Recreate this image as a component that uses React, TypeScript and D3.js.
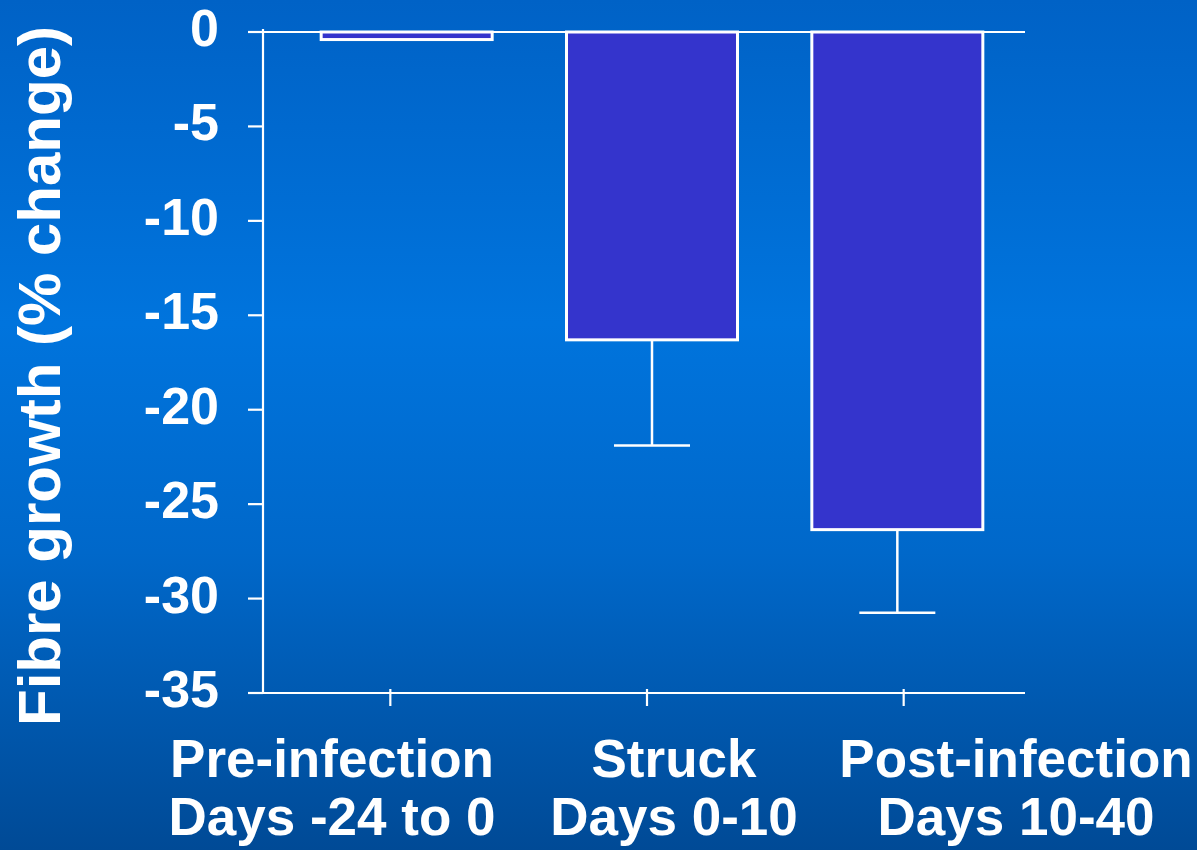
import React from "react";
import * as d3 from "d3";

const categories = ["Pre-infection", "Struck", "Post-infection"];
const subLabels = ["Days -24 to 0", "Days 0-10", "Days 10-40"];
const means = [-0.4, -16.3, -26.35];
const errorEnds = [null, -21.9, -30.75];
const yTicks = [0, -5, -10, -15, -20, -25, -30, -35];

const W = 1197;
const H = 850;

export default function App() {
  const y = d3.scaleLinear().domain([0, -35]).range([32, 693]);
  const xTick = d3.scaleBand<string>().domain(categories).range([262, 1032]).padding(0);
  const xBar = d3.scaleBand<string>().domain(categories).range([284, 1020]).paddingInner(0.31).paddingOuter(0.155);
  const xLabel = d3.scaleBand<string>().domain(categories).range([161, 1187]).padding(0);
  const axisX = 263;
  const lineL = 248;
  const lineR = 1025;
  const font = "'Liberation Sans', Arial, Helvetica, sans-serif";
  const barW = 171;
  const capHalf = 38;

  return (
    <div style={{ position: "fixed", left: 0, top: 0, width: W, height: H }}>
      <svg width={W} height={H} style={{ display: "block" }}>
        <defs>
          <linearGradient id="bg" x1="0" y1="0" x2="0" y2="1">
            <stop offset="0" stopColor="#0062c6" />
            <stop offset="0.38" stopColor="#0074dd" />
            <stop offset="0.65" stopColor="#0068ca" />
            <stop offset="1" stopColor="#004a96" />
          </linearGradient>
        </defs>
        <rect x={0} y={0} width={W} height={H} fill="url(#bg)" />

        {/* bars */}
        {categories.map((c, i) => {
          const cx = (xBar(c) as number) + xBar.bandwidth() / 2;
          const y0 = y(0);
          const y1 = y(means[i]);
          const e = errorEnds[i];
          return (
            <g key={c}>
              <rect
                x={cx - barW / 2}
                y={y0}
                width={barW}
                height={y1 - y0}
                fill="#3434cc"
                stroke="#ffffff"
                strokeWidth={3}
              />
              {e !== null && (
                <g stroke="#ffffff" strokeWidth={2.5}>
                  <line x1={cx} x2={cx} y1={y1} y2={y(e as number)} />
                  <line x1={cx - capHalf} x2={cx + capHalf} y1={y(e as number)} y2={y(e as number)} />
                </g>
              )}
            </g>
          );
        })}

        {/* axes */}
        <g stroke="#ffffff" strokeWidth={2.2} fill="none">
          <line x1={axisX} x2={axisX} y1={29} y2={694} />
          <line x1={lineL} x2={lineR} y1={y(0)} y2={y(0)} />
          <line x1={lineL} x2={lineR} y1={y(-35)} y2={y(-35)} />
          {yTicks.map((t) => (
            <line key={t} x1={lineL} x2={axisX} y1={y(t)} y2={y(t)} />
          ))}
          {categories.map((c) => {
            const tx = (xTick(c) as number) + xTick.bandwidth() / 2;
            return <line key={c} x1={tx} x2={tx} y1={y(-35) - 4} y2={y(-35) + 13} />;
          })}
        </g>

        {/* y tick labels */}
        {yTicks.map((t) => (
          <text
            key={t}
            x={219}
            y={y(t) + 14}
            textAnchor="end"
            fill="#ffffff"
            fontFamily={font}
            fontWeight="bold"
            fontSize={52}
          >
            {t === 0 ? "0" : `-${Math.abs(t)}`}
          </text>
        ))}

        {/* category labels */}
        {categories.map((c, i) => {
          const lx = (xLabel(c) as number) + xLabel.bandwidth() / 2;
          return (
            <g key={c} fill="#ffffff" fontFamily={font} fontWeight="bold" fontSize={53} textAnchor="middle">
              <text x={lx} y={777}>{c}</text>
              <text x={lx} y={835}>{subLabels[i]}</text>
            </g>
          );
        })}

        {/* y axis title */}
        <text
          transform={`translate(60, 376) rotate(-90)`}
          textAnchor="middle"
          fill="#ffffff"
          fontFamily={font}
          fontWeight="bold"
          fontSize={60}
        >
          Fibre growth (% change)
        </text>
      </svg>
    </div>
  );
}
